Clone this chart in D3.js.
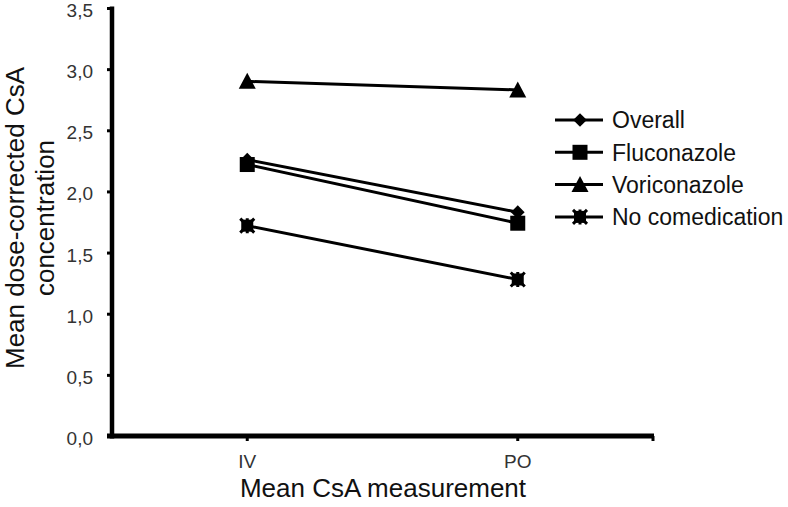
<!DOCTYPE html>
<html>
<head>
<meta charset="utf-8">
<script src="https://cdn.jsdelivr.net/npm/d3@7"></script>
<style>
  html, body { margin: 0; padding: 0; background: #fff; }
  svg text { font-family: "Liberation Sans", Arial, sans-serif; }
</style>
</head>
<body>
<svg id="chart" width="788" height="507"></svg>
<script>
"use strict";

// chart data
var categories = ["IV", "PO"];
var seriesNames = ["Overall", "Fluconazole", "Voriconazole", "No comedication"];
var overall = [2.26, 1.83];
var fluconazole = [2.22, 1.74];
var voriconazole = [2.90, 2.83];
var noComedication = [1.72, 1.28];
var yTicks = [0, 0.5, 1.0, 1.5, 2.0, 2.5, 3.0, 3.5];

var seriesValues = [overall, fluconazole, voriconazole, noComedication];
var markers = ["diamond", "square", "triangle", "star"];

var svg = d3.select("#chart");

var x = d3.scaleBand().domain(categories).range([112, 653]).padding(0);
var y = d3.scaleLinear().domain([0, 3.5]).range([436, 8]);

var fmt = v => d3.format(".1f")(v).replace(".", ",");

// marker shapes
var drawMarker = (g, type) => {
    if (type === "diamond") {
        g.append("path").attr("d", d3.symbol(d3.symbolDiamond2, 120)());
    } else if (type === "square") {
        g.append("rect").attr("x", -7.5).attr("y", -7.5).attr("width", 15).attr("height", 15);
    } else if (type === "triangle") {
        g.append("path").attr("d", "M0,-8.5L8.5,7.5L-8.5,7.5Z");
    } else {
        // excel-like star: filled block with notched corners
        g.append("rect").attr("x", -6).attr("y", -6).attr("width", 12).attr("height", 12);
        g.append("path").attr("d", "M-7,-7L7,7M7,-7L-7,7M0,-7.5L0,7.5")
            .attr("stroke", "#000").attr("stroke-width", 3).attr("fill", "none");
    }
};

// y axis
var yAxis = svg.append("g").attr("transform", "translate(112,0)")
    .call(d3.axisLeft(y).tickValues(yTicks).tickFormat(fmt).tickSize(5).tickPadding(14));
yAxis.select(".domain").remove();
yAxis.selectAll(".tick line").attr("stroke", "#000").attr("stroke-width", 3);
yAxis.selectAll(".tick text").attr("fill", "#333").attr("dy", "0.45em").style("font-size", "19px");
svg.append("line")
    .attr("x1", 112).attr("x2", 112)
    .attr("y1", y.range()[1] - 1.5).attr("y2", y(0) + 2.5)
    .attr("stroke", "#000").attr("stroke-width", 4.5);

// x axis
var xAxis = svg.append("g").attr("transform", "translate(0," + y(0) + ")")
    .call(d3.axisBottom(x).tickSize(5).tickPadding(14));
xAxis.select(".domain").remove();
xAxis.selectAll(".tick line").attr("stroke", "#000").attr("stroke-width", 3);
xAxis.selectAll(".tick text").attr("fill", "#333").style("font-size", "19px");
svg.append("line")
    .attr("x1", 107).attr("x2", x.range()[1] + 1)
    .attr("y1", y(0)).attr("y2", y(0))
    .attr("stroke", "#000").attr("stroke-width", 5);
svg.append("line")
    .attr("x1", x.range()[1]).attr("x2", x.range()[1])
    .attr("y1", y(0)).attr("y2", y(0) + 5)
    .attr("stroke", "#000").attr("stroke-width", 3);

// axis titles
svg.append("text")
    .attr("x", 383).attr("y", 497)
    .attr("text-anchor", "middle")
    .style("font-size", "26px").attr("fill", "#111")
    .text("Mean CsA measurement");

var yTitle = svg.append("text")
    .attr("transform", "translate(24,218) rotate(-90)")
    .attr("text-anchor", "middle")
    .style("font-size", "26px").attr("fill", "#111");
yTitle.append("tspan").attr("x", 0).attr("dy", 0).text("Mean dose-corrected CsA");
yTitle.append("tspan").attr("x", 0).attr("dy", 30).text("concentration");

// series
var line = d3.line()
    .x((d, i) => x(categories[i]) + x.bandwidth() / 2)
    .y(d => y(d));

seriesValues.forEach((vals, s) => {
    svg.append("path")
        .attr("d", line(vals))
        .attr("fill", "none")
        .attr("stroke", "#000")
        .attr("stroke-width", 3);
    vals.forEach((v, i) => {
        var g = svg.append("g")
            .attr("transform", "translate(" + (x(categories[i]) + x.bandwidth() / 2) + "," + y(v) + ")")
            .attr("fill", "#000");
        drawMarker(g, markers[s]);
    });
});

// legend
var legend = svg.append("g").attr("transform", "translate(555,120)");
seriesNames.forEach((name, s) => {
    var row = legend.append("g").attr("transform", "translate(0," + (s * 32.3) + ")");
    row.append("line").attr("x1", 0).attr("x2", 48).attr("y1", 0).attr("y2", 0)
        .attr("stroke", "#000").attr("stroke-width", 3);
    var m = row.append("g").attr("transform", "translate(25,0)").attr("fill", "#000");
    drawMarker(m, markers[s]);
    row.append("text").attr("x", 57).attr("y", 0).attr("dy", "0.36em")
        .style("font-size", "23px").attr("fill", "#111")
        .text(name);
});
</script>
</body>
</html>
